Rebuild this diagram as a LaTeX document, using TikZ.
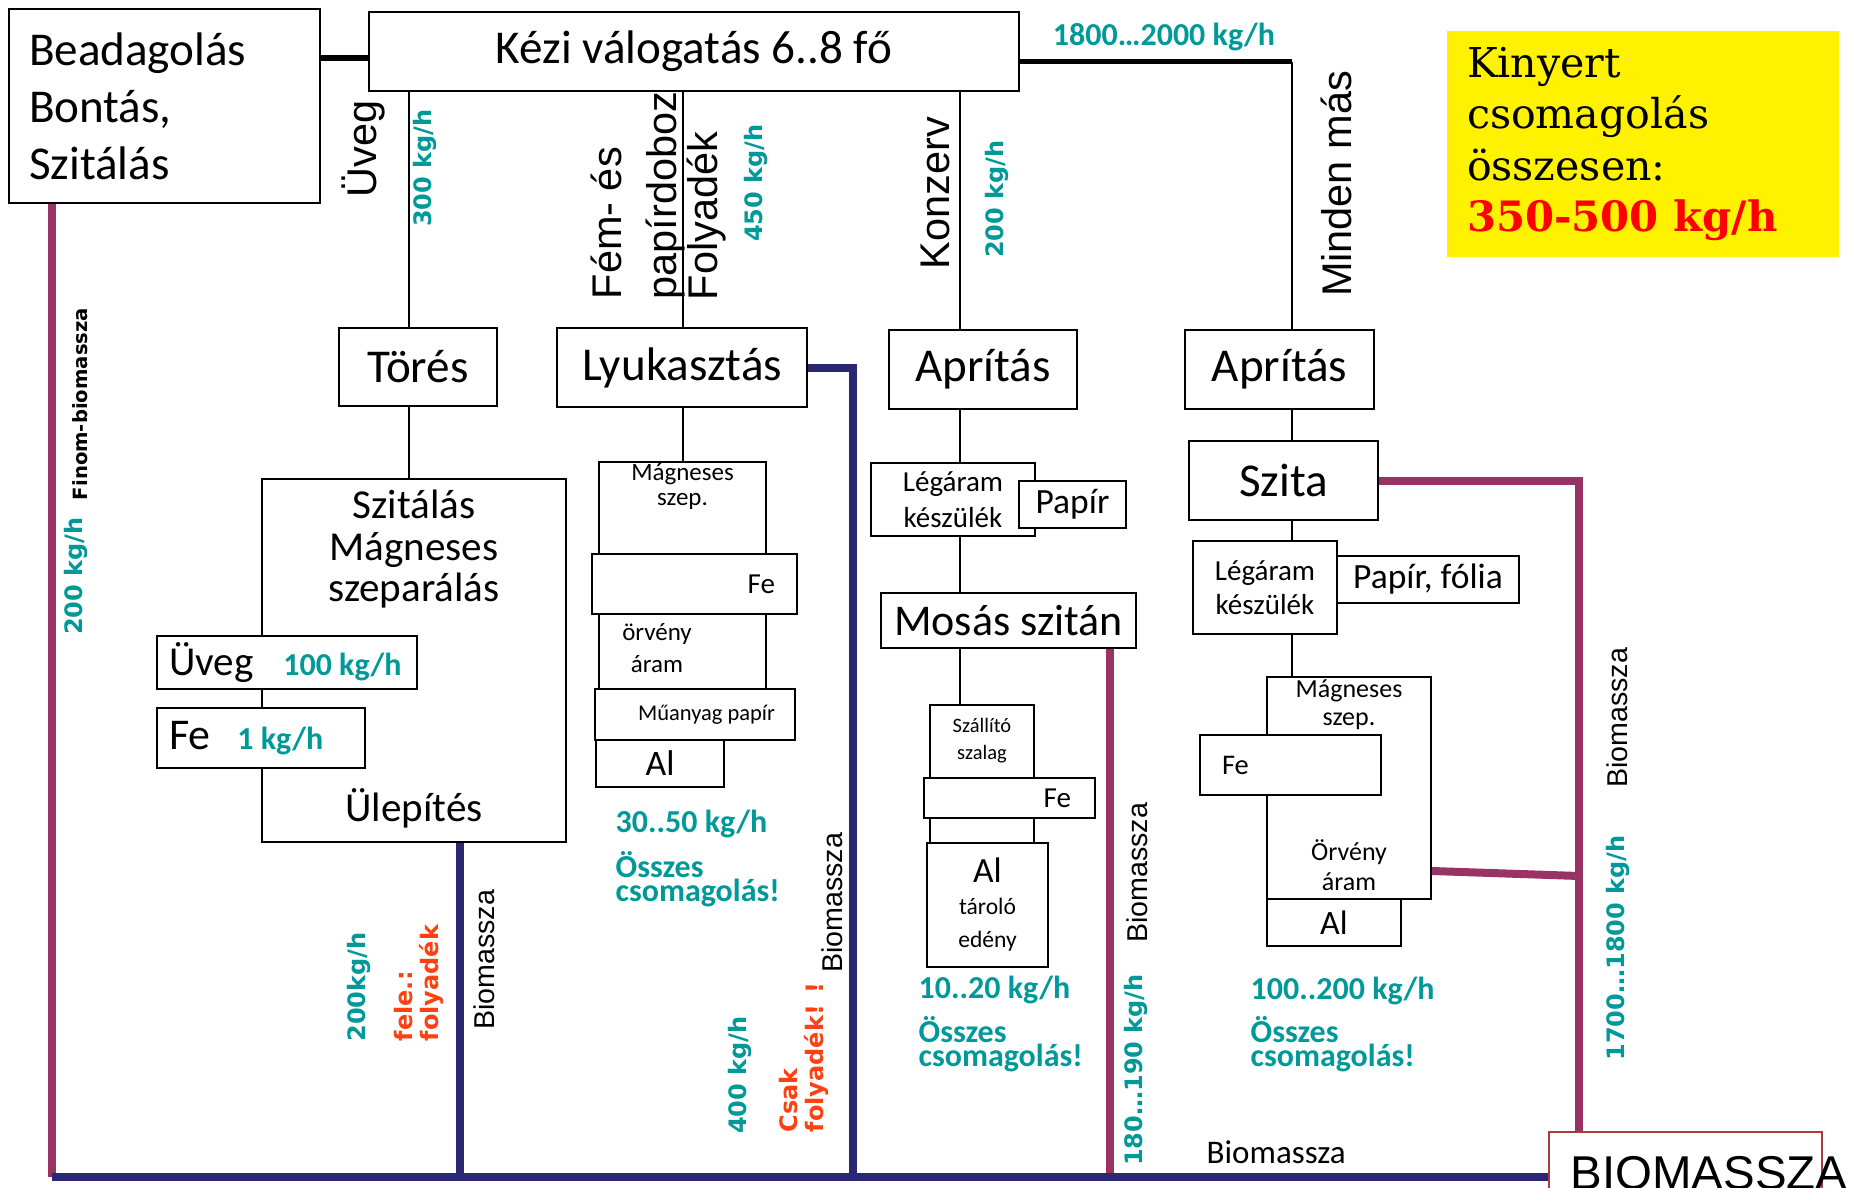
\documentclass[tikz,border=0pt]{standalone}
\usepackage{fontspec}
\setmainfont{Carlito}
\newfontfamily\arialf{Liberation Sans}
\newfontfamily\verdf{DejaVu Sans}
\newfontfamily\serf{DejaVu Serif}
\usetikzlibrary{positioning}
\definecolor{bmag}{RGB}{153,51,102}
\definecolor{bnavy}{RGB}{42,40,115}
\definecolor{kgteal}{RGB}{0,153,153}
\definecolor{fred}{RGB}{255,64,16}
\definecolor{bored}{RGB}{170,60,60}

\begin{document}
\begin{tikzpicture}[x=0.1mm,y=-0.1mm,box/.style={draw=black,line width=0.2mm,fill=white,inner sep=0pt,align=center},txt/.style={inner sep=0pt},vtxt/.style={inner sep=0pt,rotate=90},kg/.style={vtxt,kgteal,font=\fKgv},conn/.style={line width=0.15mm},blk/.style={line width=0.6mm},magl/.style={bmag,line width=0.8mm},navl/.style={bnavy,line width=0.8mm}]
\def\fBig{\fontsize{13.4pt}{16.2pt}\selectfont};
\def\fMid{\fontsize{11.7pt}{11.9pt}\selectfont};
\def\fKgh{\bfseries\fontsize{9.1pt}{6.9pt}\selectfont\lineskiplimit=-20pt};
\def\fKgv{\verdf\bfseries\fontsize{6.83pt}{8pt}\selectfont};
\def\vsans{\arialf\fontsize{11.8pt}{15.6pt}\selectfont};
\def\fRed{\verdf\bfseries\fontsize{6.83pt}{7.4pt}\selectfont};
\def\fBio{\arialf\fontsize{8.14pt}{9pt}\selectfont};

\path[use as bounding box,fill=white] (0,0) rectangle (1850,1188);
\clip (0,0) rectangle (1850,1188);

\coordinate (c1) at (409,0);
\coordinate (c2) at (683,0);
\coordinate (c3) at (960,0);
\coordinate (c4) at (1292,0);
\coordinate (b0) at (52,1177);
\coordinate (b1) at (460,1177);
\coordinate (b2) at (853,1177);
\coordinate (b3) at (1110,1177);
\coordinate (b4) at (1579,1177);

\node[vtxt,font=\vsans] (LUV) at (363,149) {Üveg};
\node[kg] (K300) at (425,168) {300 kg/h};
\node[vtxt,font=\vsans,align=flush left,anchor=north west] (LFE) at (590,300) {Fém- és\\papírdoboz};
\node[vtxt,font=\vsans] (LFO) at (707,216) {Folyadék};
\node[kg] (K450) at (756,183) {450 kg/h};
\node[vtxt,font=\vsans] (LKO) at (935,193) {Konzerv};
\node[kg] (K200) at (997,199) {200 kg/h};
\node[vtxt,font=\vsans] (LMM) at (1336,184) {Minden más};
\node[txt,kgteal,font=\fKgh] (K18) at (1164,37) {1800…2000 kg/h};

\node[box,font=\fBig,text width=27.1mm,inner xsep=2mm,minimum height=19.4mm,align=flush left] (BB) at (164.5,106) {Beadagolás\\Bontás,\\Szitálás};
\node[box,font=\fBig,minimum width=65mm,minimum height=7.9mm] (KV) at (694,51.5) {Kézi válogatás 6..8 fő};
\node[fill=yellow,inner ysep=0pt,inner xsep=2mm,text width=35.2mm,minimum height=22.6mm,align=flush left,font=\serf\fontsize{11.7pt}{14.6pt}\selectfont] (YB) at (1643,144) {Kinyert\\csomagolás\\összesen:\\{\color{red}\bfseries\fontsize{11.9pt}{14.6pt}\selectfont 350-500 kg/h}};

\node[box,font=\fBig,minimum width=15.8mm,minimum height=7.8mm] (TO) at (418,367) {Törés};
\node[box,font=\fBig,minimum width=25mm,minimum height=7.9mm] (LY) at (682,367.5) {Lyukasztás};
\node[box,font=\fBig,minimum width=18.8mm,minimum height=7.9mm] (AP1) at (983,369.5) {Aprítás};
\node[box,font=\fBig,minimum width=18.9mm,minimum height=7.9mm] (AP2) at (1279.5,369.5) {Aprítás};

\node[box,minimum width=30.4mm,minimum height=36.3mm] (SZ) at (414,660.5) {};
\node[txt,font=\fMid,align=center,below=1.1mm of SZ.north] (SZt) {Szitálás\\Mágneses\\szeparálás};
\node[txt,font=\fMid,above=1.4mm of SZ.south] (UL) {Ülepítés};
\node[box,text width=23.6mm,inner xsep=1.2mm,minimum height=5.3mm,align=flush left,font=\fMid] (UV) at (287,662.5) {\mbox{Üveg\hspace{3mm}{\fKgh\color{kgteal}100 kg/h}}};
\node[box,text width=18.4mm,inner xsep=1.2mm,minimum height=6mm,align=flush left,font=\fontsize{12.5pt}{14pt}\selectfont] (FE) at (261,738) {\mbox{Fe\hspace{2.7mm}{\fKgh\color{kgteal}1 kg/h}}};

\node[box,minimum width=16.7mm,minimum height=22.7mm] (MS1) at (682.5,575.5) {};
\node[txt,font=\fontsize{7.1pt}{7.1pt}\selectfont,align=center,below=0.2mm of MS1.north] (MS1t) {Mágneses\\szep.};
\node[txt,font=\fontsize{7.1pt}{9.1pt}\selectfont,align=center] (OR1) at (657,648) {örvény\\áram};
\node[box,text width=16.1mm,inner xsep=2.2mm,minimum height=6mm,align=flush right,font=\fontsize{8.25pt}{9pt}\selectfont] (FE1) at (694.5,584) {Fe};
\node[box,text width=16mm,inner xsep=2mm,minimum height=5.1mm,align=flush right,font=\fontsize{6.4pt}{7pt}\selectfont] (MU) at (695,714.5) {\mbox{Műanyag papír}};
\node[box,minimum width=12.8mm,minimum height=4.7mm,font=\fontsize{10.2pt}{11pt}\selectfont] (AL1) at (660,763.5) {Al};

\node[box,minimum width=16.4mm,minimum height=7.3mm,font=\fontsize{8.25pt}{10.2pt}\selectfont] (LG1) at (953,499.5) {Légáram\\készülék};
\node[box,minimum width=10.7mm,minimum height=4.7mm,font=\fontsize{10.1pt}{11pt}\selectfont] (PA) at (1072.5,504.5) {Papír};
\node[box,minimum width=25.5mm,minimum height=5.5mm,font=\fontsize{12.5pt}{14pt}\selectfont] (MO) at (1008.5,620.5) {Mosás szitán};
\node[box,minimum width=10.4mm,minimum height=13.8mm] (SL) at (982,774) {};
\node[txt,font=\fontsize{5.83pt}{7.7pt}\selectfont,align=center,below=1.4mm of SL.north] (SLt) {Szállító\\szalag};
\node[box,text width=12.3mm,inner xsep=2.4mm,minimum height=4mm,align=flush right,font=\fontsize{8.25pt}{9pt}\selectfont] (FE3) at (1009.5,798) {Fe};
\node[box,minimum width=12.1mm,minimum height=12.4mm,font=\fontsize{6.7pt}{9.1pt}\selectfont] (AL3) at (987.5,905) {{\fontsize{10.1pt}{9.1pt}\selectfont Al}\\tároló\\[0.3pt]edény};

\node[box,font=\fBig,minimum width=18.9mm,minimum height=7.9mm] (SZI) at (1283.5,480.5) {Szita};
\node[box,minimum width=14.4mm,minimum height=9.3mm,font=\fontsize{8.25pt}{9.7pt}\selectfont] (LG2) at (1265,587.5) {Légáram\\készülék};
\node[box,minimum width=18.2mm,minimum height=4.7mm,font=\fontsize{10.1pt}{11pt}\selectfont] (PF) at (1428,579.5) {Papír, fólia};
\node[box,minimum width=16.4mm,minimum height=22.2mm] (MG2) at (1349,788) {};
\node[txt,font=\fontsize{7.4pt}{7.7pt}\selectfont,align=center,below=0.35mm of MG2.north] (MG2t) {Mágneses\\szep.};
\node[txt,font=\fontsize{7.4pt}{8.5pt}\selectfont,align=center] (OR2) at (1349,865) {Örvény\\áram};
\node[box,text width=13.7mm,inner xsep=2.2mm,minimum height=6mm,align=flush left,font=\fontsize{8.1pt}{9pt}\selectfont] (FE2) at (1290.5,765) {Fe};
\node[box,minimum width=13.4mm,minimum height=4.7mm,font=\fontsize{9.7pt}{11pt}\selectfont] (AL2) at (1334,922.5) {Al};

\node[draw=bored,line width=0.2mm,fill=white,inner sep=0pt,minimum width=27.3mm,minimum height=8mm,anchor=north west] (BIO) at (1548,1131) {};
\node[txt,font=\arialf\fontsize{13.5pt}{15pt}\selectfont,anchor=base west] (BIOt) at (1570,1189) {BIOMASSZA};

\draw[blk] ([yshift=-0.65mm]KV.west -| BB.east) -- ([yshift=-0.65mm]KV.west);
\draw[blk] ([yshift=-1mm]KV.east) -- ([yshift=-1mm]KV.east -| c4);
\draw[conn] ([yshift=-1mm]KV.east -| c4) -- (AP2.north -| c4);
\draw[conn] (AP2.south -| c4) -- (SZI.north -| c4);
\draw[conn] (SZI.south -| c4) -- (LG2.north -| c4);
\draw[conn] (LG2.south -| c4) -- (MG2.north -| c4);
\draw[conn] (KV.south -| c1) -- (TO.north -| c1);
\draw[conn] (TO.south -| c1) -- (SZ.north -| c1);
\draw[conn] (KV.south -| c2) -- (LY.north -| c2);
\draw[conn] (LY.south -| c2) -- (MS1.north -| c2);
\draw[conn] (KV.south -| c3) -- (AP1.north -| c3);
\draw[conn] (AP1.south -| c3) -- (LG1.north -| c3);
\draw[conn] (LG1.south -| c3) -- (MO.north -| c3);
\draw[conn] (MO.south -| c3) -- (SL.north -| c3);

\draw[magl] (BB.south -| b0) -- (b0);
\draw[magl] (MO.south -| b3) -- (b3);
\draw[magl] (SZI.east) -| (BIO.north -| b4);
\draw[magl] ([yshift=-8.3mm]MG2.east) -- ([yshift=-8.8mm]MG2.east -| b4);
\draw[navl] (b0) -- (BIO.west |- b0);
\draw[navl] (SZ.south -| b1) -- (b1);
\draw[navl] (LY.east) -| (b2);

\node[vtxt,font=\verdf\bfseries\fontsize{5.58pt}{6pt}\selectfont] (LFB) at (80,404) {Finom-biomassza};
\node[kg] (K200b) at (76,576) {200 kg/h};
\node[kg] (K200c) at (359,987) {200kg/h};
\node[vtxt,fred,font=\fRed,align=flush left,anchor=north west] (LFF) at (394,1042) {fele.:\\folyadék};
\node[vtxt,font=\fBio] (LB1) at (484,960) {Biomassza};
\node[txt,kgteal,font=\fKgh,anchor=base west] (K30) at (615,832) {30..50 kg/h};
\node[txt,kgteal,font=\fKgh,align=flush left,anchor=north west] (OS1) at (615,851) {Összes\\csomagolás!};
\node[kg] (K400) at (740,1075) {400 kg/h};
\node[vtxt,fred,font=\fRed,align=flush left,anchor=north west] (LCS) at (779,1133) {Csak\\folyadék! !};
\node[vtxt,font=\fBio] (LB2) at (832,903) {Biomassza};
\node[txt,kgteal,font=\fKgh,anchor=base west] (K10) at (918,998) {10..20 kg/h};
\node[txt,kgteal,font=\fKgh,align=flush left,anchor=north west] (OS2) at (918,1016) {Összes\\csomagolás!};
\node[vtxt,font=\fBio] (LB3) at (1137,873) {Biomassza};
\node[kg] (K180) at (1136,1070) {180…190 kg/h};
\node[txt,kgteal,font=\fKgh,anchor=base west] (K100) at (1250,999) {100..200 kg/h};
\node[txt,kgteal,font=\fKgh,align=flush left,anchor=north west] (OS3) at (1250,1016) {Összes\\csomagolás!};
\node[vtxt,font=\fBio] (LB4) at (1617,718) {Biomassza};
\node[kg] (K1700) at (1618,948) {1700…1800 kg/h};
\node[txt,font=\fontsize{9.4pt}{11pt}\selectfont,anchor=base west] (BM) at (1206,1163) {Biomassza};
\end{tikzpicture}
\end{document}
